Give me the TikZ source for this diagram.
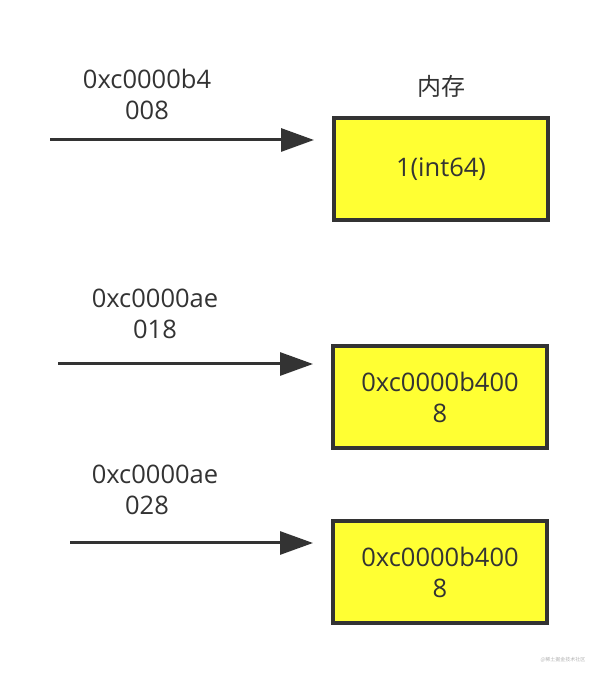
\documentclass[tikz,border=0pt]{standalone}
\usepackage{fontspec}
\setmainfont{Open Sans}
\newfontfamily\cjk{Noto Sans CJK SC}
\usepackage{tikz}
\usetikzlibrary{arrows.meta, positioning}
\definecolor{memyellow}{RGB}{255,255,51}
\definecolor{inkgray}{RGB}{51,51,51}
\tikzstyle{membox} = [rectangle, fill=memyellow, draw=inkgray, line width=4pt,
minimum width=214pt, minimum height=102pt, inner sep=0pt,
align=center, text=inkgray, font=\fontsize{25.5}{31}\selectfont]
\tikzstyle{addr} = [align=center, text=inkgray, inner sep=0pt,
font=\fontsize{25.5}{31}\selectfont]
\tikzstyle{arrow} = [-{Triangle[length=33pt, width=23pt]}, line width=3pt,
draw=inkgray, shorten >=18pt]

\begin{document}
\begin{tikzpicture}[x=1pt, y=1pt]
    \useasboundingbox (0,0) rectangle (600,676);
    \node (mem1) [membox] at (441,507) {1(int64)};
    \node (mem2) [membox] at (440,279) {0xc0000b400\\8};
    \node (mem3) [membox] at (440,104) {0xc0000b400\\8};
    \node (title) [text=inkgray, font=\cjk\fontsize{24}{28}\selectfont] at (441,590) {内存};

    \coordinate (src1) at (50,536);
    \coordinate (src2) at (58,312);
    \coordinate (src3) at (70,133);
    \node (addr1) [addr] at (147,582) {0xc0000b4\\008};
    \node (addr2) [addr] at (155,362) {0xc0000ae\\018};
    \node (addr3) [addr] at (155,186) {0xc0000ae\\028\hspace*{16pt}};

    \draw[arrow] (src1) -- (mem1.west |- src1);
    \draw[arrow] (src2) -- (mem2.west |- src2);
    \draw[arrow] (src3) -- (mem3.west |- src3);

    \node (mark) [text=gray!60, font=\cjk\fontsize{5}{6}\selectfont] at (563,16) {@稀土掘金技术社区};
\end{tikzpicture}
\end{document}
